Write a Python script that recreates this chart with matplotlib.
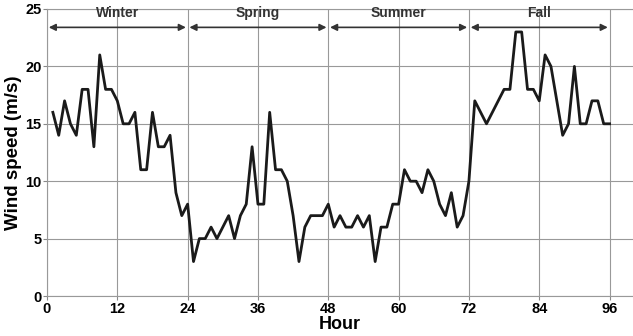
import matplotlib
matplotlib.use("Agg")
import matplotlib.pyplot as plt

# hourly wind speed, hours 1..96 (24 h per season)
hours = list(range(1, 97))
winter = [16, 14, 17, 15, 14, 18, 18, 13, 21, 18, 18, 17,
          15, 15, 16, 11, 11, 16, 13, 13, 14, 9, 7, 8]
spring = [3, 5, 5, 6, 5, 6, 7, 5, 7, 8, 13, 8,
          8, 16, 11, 11, 10, 7, 3, 6, 7, 7, 7, 8]
summer = [6, 7, 6, 6, 7, 6, 7, 3, 6, 6, 8, 8,
          11, 10, 10, 9, 11, 10, 8, 7, 9, 6, 7, 10]
fall = [17, 16, 15, 16, 17, 18, 18, 23, 23, 18, 18, 17,
        21, 20, 17, 14, 15, 20, 15, 15, 17, 17, 15, 15]
speed = winter + spring + summer + fall

seasons = ["Winter", "Spring", "Summer", "Fall"]
season_edges = [0, 24, 48, 72, 96]
xticks = [0, 12, 24, 36, 48, 60, 72, 84, 96]
yticks = [0, 5, 10, 15, 20, 25]

plt.rcParams['font.family'] = ['Liberation Sans', 'DejaVu Sans']

fig = plt.figure(figsize=(6.33, 3.36), dpi=100)
ax = fig.add_axes([47 / 633, 40 / 336, 586 / 633, 287 / 336])

ax.plot(hours, speed, color='#1a1a1a', linewidth=2)

# season arrows
for i, name in enumerate(seasons):
    a, b = season_edges[i], season_edges[i + 1]
    ax.annotate('', xy=(a + 0.3, 23.4), xytext=(b - 0.3, 23.4),
                arrowprops=dict(arrowstyle='<|-|>', color='#333333', lw=1.2,
                                mutation_scale=10, shrinkA=0, shrinkB=0))
    ax.text((a + b) / 2, 24.0, name, ha='center', va='bottom',
            fontsize=10, fontweight='bold', color='#333333')

ax.set_xlim(0, 100)
ax.set_ylim(0, 25)
ax.set_xticks(xticks)
ax.set_yticks(yticks)
ax.tick_params(labelsize=10.5, length=3, color='#888888', pad=1)
for lbl in ax.get_xticklabels() + ax.get_yticklabels():
    lbl.set_fontweight('bold')
ax.grid(True, color='#999999', linewidth=0.8)
for s in ax.spines.values():
    s.set_color('#999999')
ax.spines['right'].set_visible(False)

ax.set_xlabel('Hour', fontsize=13, fontweight='bold', labelpad=0)
ax.set_ylabel('Wind speed (m/s)', fontsize=13.5, fontweight='bold')
ax.yaxis.set_label_coords(-0.043, 0.5)

fig.savefig('out.png', dpi=100)
